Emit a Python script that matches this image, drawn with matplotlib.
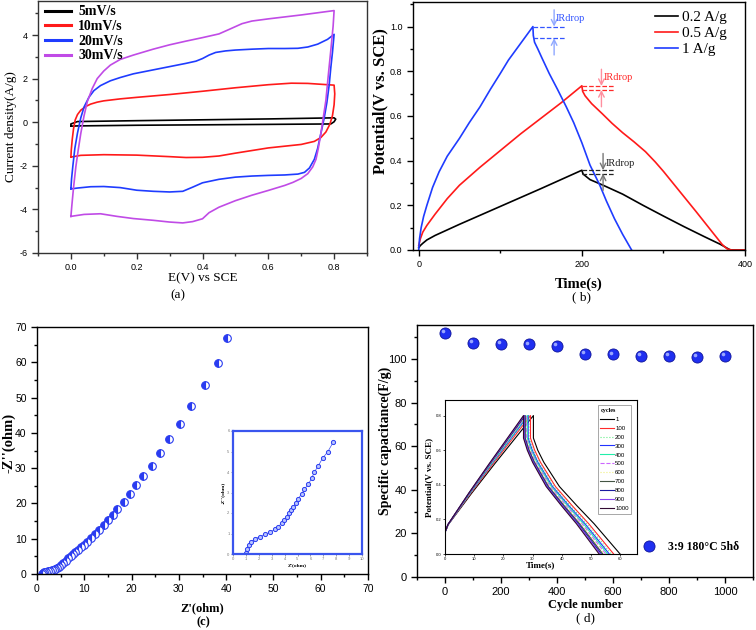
import numpy as np
import matplotlib
matplotlib.use('Agg')
import matplotlib.pyplot as plt
import matplotlib.transforms as mtransforms
from matplotlib.ticker import MultipleLocator

plt.rcParams.update({
    'font.family': 'Liberation Sans',
    'xtick.direction': 'out',
    'ytick.direction': 'out',
    'axes.linewidth': 1.0,
    'axes.unicode_minus': False,
})
SERIF = 'Liberation Serif'

# ---------------- data ----------------
# (a) cyclic voltammetry loops, E (V) and current density (A/g)
cv_labels = ['5mV/s', '10mV/s', '20mV/s', '30mV/s']
cv5_E = [0.0, 0.0, 0.02, 0.2, 0.4, 0.6, 0.8, 0.805, 0.8, 0.79, 0.6, 0.4, 0.2, 0.02, 0.0]
cv5_j = [-0.18, -0.08, 0.03, 0.07, 0.11, 0.15, 0.2, 0.14, 0.02, -0.08, -0.1, -0.12, -0.14, -0.17, -0.18]
cv10_E = [0.0, 0.001, 0.004, 0.008, 0.013, 0.02, 0.03, 0.045, 0.06, 0.08, 0.1, 0.15, 0.2, 0.3, 0.4,
          0.5, 0.6, 0.67, 0.72, 0.77, 0.8, 0.802, 0.8, 0.795, 0.787, 0.775, 0.76, 0.74, 0.7, 0.65,
          0.6, 0.55, 0.5, 0.45, 0.4, 0.35, 0.3, 0.2, 0.1, 0.03, 0.0]
cv10_j = [-1.6, -1.3, -0.8, -0.3, 0.1, 0.35, 0.55, 0.72, 0.83, 0.92, 0.98, 1.07, 1.14, 1.27, 1.42,
          1.58, 1.72, 1.79, 1.78, 1.73, 1.7, 1.3, 0.8, 0.3, -0.1, -0.45, -0.7, -0.88, -1.02, -1.1,
          -1.18, -1.3, -1.42, -1.55, -1.61, -1.62, -1.58, -1.51, -1.49, -1.52, -1.6]
cv20_E = [0.0, 0.002, 0.006, 0.012, 0.02, 0.03, 0.04, 0.055, 0.07, 0.09, 0.12, 0.15, 0.19, 0.25,
          0.3, 0.35, 0.38, 0.4, 0.42, 0.44, 0.47, 0.5, 0.55, 0.6, 0.65, 0.69, 0.72, 0.75, 0.78, 0.8,
          0.795, 0.79, 0.785, 0.778, 0.77, 0.76, 0.75, 0.74, 0.725, 0.71, 0.69, 0.65, 0.6, 0.55, 0.5,
          0.45, 0.4, 0.37, 0.34, 0.3, 0.25, 0.2, 0.15, 0.1, 0.06, 0.02, 0.005, 0.0]
cv20_j = [-3.05, -2.6, -2.0, -1.2, -0.5, 0.2, 0.7, 1.15, 1.45, 1.68, 1.9, 2.05, 2.22, 2.4,
          2.55, 2.7, 2.8, 2.92, 3.08, 3.2, 3.27, 3.31, 3.35, 3.38, 3.38, 3.39, 3.45, 3.58, 3.8, 4.03,
          3.2, 2.5, 1.7, 0.9, 0.2, -0.5, -1.2, -1.7, -2.1, -2.3, -2.38, -2.42, -2.44, -2.47, -2.52,
          -2.62, -2.78, -2.98, -3.17, -3.2, -3.17, -3.12, -3.0, -2.95, -2.96, -3.02, -3.05, -3.05]
cv30_E = [0.0, 0.003, 0.008, 0.015, 0.022, 0.03, 0.04, 0.05, 0.065, 0.08, 0.1, 0.12, 0.15, 0.19,
          0.25, 0.3, 0.35, 0.4, 0.45, 0.48, 0.52, 0.55, 0.6, 0.65, 0.7, 0.75, 0.8,
          0.797, 0.79, 0.782, 0.775, 0.767, 0.76, 0.752, 0.745, 0.735, 0.72, 0.7, 0.675, 0.65, 0.6,
          0.55, 0.5, 0.45, 0.42, 0.4, 0.37, 0.34, 0.3, 0.25, 0.19, 0.14, 0.09, 0.04, 0.0]
cv30_j = [-4.32, -3.8, -3.0, -2.05, -1.3, -0.52, 0.3, 0.95, 1.55, 2.0, 2.35, 2.62, 2.88, 3.08,
          3.35, 3.55, 3.72, 3.88, 4.05, 4.25, 4.52, 4.64, 4.74, 4.83, 4.92, 5.02, 5.12,
          4.4, 3.3, 2.1, 1.0, 0.2, -0.5, -1.2, -1.7, -2.05, -2.36, -2.58, -2.76, -2.9, -3.13,
          -3.35, -3.6, -3.9, -4.15, -4.43, -4.56, -4.62, -4.58, -4.5, -4.42, -4.32, -4.2, -4.23, -4.32]

# (b) galvanostatic charge/discharge
gcd_labels = ['0.2 A/g', '0.5 A/g', '1 A/g']
gcd02_t = [0, 2, 5, 10, 20, 50, 100, 150, 200, 201.5, 210, 226, 250, 275, 300, 325, 350, 370, 382, 400]
gcd02_V = [0.01, 0.02, 0.03, 0.045, 0.065, 0.115, 0.195, 0.275, 0.357, 0.34, 0.315, 0.29, 0.25, 0.2,
           0.152, 0.105, 0.06, 0.025, 0.0, 0.0]
gcd05_t = [0, 2, 5, 10, 20, 35, 50, 75, 100, 125, 150, 175, 200, 201, 204, 212, 225, 237, 250, 264,
           278, 290, 300, 320, 340, 360, 372, 378, 384, 400]
gcd05_V = [0.02, 0.05, 0.08, 0.11, 0.16, 0.23, 0.29, 0.37, 0.445, 0.52, 0.59, 0.66, 0.735, 0.71, 0.69,
           0.655, 0.61, 0.567, 0.525, 0.484, 0.44, 0.394, 0.352, 0.262, 0.172, 0.08, 0.025, 0.005, 0.0,
           0.0]
gcd1_t = [0, 1, 3, 6, 10, 17, 25, 35, 50, 62, 75, 88, 100, 110, 120, 130, 140, 140.5, 142, 146, 151,
          160, 170, 181, 190, 200, 210, 222, 230, 240, 250, 261]
gcd1_V = [0.0, 0.05, 0.1, 0.15, 0.2, 0.28, 0.35, 0.42, 0.5, 0.57, 0.64, 0.72, 0.79, 0.85, 0.9, 0.95,
          1.0, 0.96, 0.93, 0.9, 0.86, 0.79, 0.72, 0.64, 0.57, 0.48, 0.38, 0.29, 0.22, 0.14, 0.07, 0.0]
# IR drop marks: (t start, t end, V top, V bottom, arrow t, text t, text V)
ir_blue = (140, 180, 1.0, 0.948, 166, 167.5, 1.037)
ir_red = (200, 241, 0.734, 0.716, 224, 227, 0.773)
ir_black = (200, 241, 0.357, 0.342, 226, 229, 0.388)

# (c) Nyquist plot
eis_x = [40.2, 38.3, 35.5, 32.6, 30.3, 28.0, 26.0, 24.3, 22.5, 21.0, 19.6, 18.3, 17.0, 16.0, 15.1, 14.2,
         13.2, 12.3, 11.4, 10.6, 9.9, 9.3, 8.7, 8.1, 7.6, 7.1, 6.6, 6.1, 5.6, 5.1, 4.7, 4.3, 3.9, 3.5,
         3.1, 2.7, 2.3, 1.9, 1.5, 1.2, 1.0]
eis_y = [67.0, 59.8, 53.5, 47.6, 42.4, 38.2, 34.3, 30.6, 27.7, 25.2, 22.6, 20.3, 18.4, 16.8, 15.3, 13.9,
         12.5, 11.3, 10.1, 9.2, 8.3, 7.6, 6.9, 6.2, 5.6, 5.0, 4.4, 3.8, 3.2, 2.6, 2.1, 1.7, 1.35, 1.15,
         1.0, 0.9, 0.8, 0.65, 0.45, 0.25, 0.05]
eis_in_x = [0.99, 1.09, 1.22, 1.43, 1.69, 2.08, 2.47, 2.86, 3.25, 3.51, 3.77, 3.97, 4.16, 4.34, 4.49,
            4.68, 4.88, 5.06, 5.32, 5.53, 5.84, 6.1, 6.29, 6.62, 6.94, 7.35, 7.79]
eis_in_y = [0.03, 0.24, 0.44, 0.6, 0.73, 0.85, 0.96, 1.06, 1.2, 1.33, 1.5, 1.66, 1.82, 1.98, 2.15,
            2.31, 2.5, 2.7, 2.93, 3.15, 3.41, 3.69, 3.98, 4.31, 4.67, 4.99, 5.48]

# (d) cycling stability
cyc_n = [0, 100, 200, 300, 400, 500, 600, 700, 800, 900, 1000]
cyc_C = [111.8, 107.5, 106.8, 106.7, 106.0, 102.4, 102.1, 101.4, 101.4, 101.1, 101.4]
cyc_label = '3:9 180°C 5hδ'
# inset: GCD curves of selected cycles
in_cycles = ['1', '100', '200', '300', '400', '500', '600', '700', '800', '900', '1000']
in_peak_t = [30.3, 29.3, 28.8, 28.5, 28.2, 27.9, 27.7, 27.5, 27.3, 27.1, 26.9]
in_end_t = [60.0, 57.8, 57.0, 56.3, 55.7, 55.1, 54.6, 54.1, 53.6, 53.2, 52.8]
in_colors = ['#000000', '#ff2a2a', '#66ee88', '#2233ff', '#22eeaa', '#cc66ff', '#f0f080',
             '#445544', '#1a1aa0', '#8844ee', '#330a33']
in_styles = ['-', '-', ':', '-', '-', '--', ':', '-', '-', '-', '-']
# read shape of one curve: charge (fraction of peak time, V), discharge (fraction of discharge time, V)
chg_frac = [0.0, 0.004, 0.037, 0.11, 0.3, 0.56, 0.78, 1.0]
chg_V = [0.0, 0.13, 0.17, 0.22, 0.35, 0.52, 0.66, 0.8]
dis_frac = [0.0, 0.05, 0.12, 0.3, 0.5, 0.7, 0.88, 1.0]
dis_V = [0.67, 0.6, 0.53, 0.39, 0.28, 0.175, 0.07, 0.0]

W, H = 756, 630
fig = plt.figure(figsize=(W / 100, H / 100), dpi=100)


def box(l, t, r, b):
    return [l / W, 1 - b / H, (r - l) / W, (b - t) / H]


def style(ax, fs, color='black'):
    for s in ax.spines.values():
        s.set_color(color)
    ax.tick_params(which='both', top=False, right=False, labelsize=fs, colors=color)
    ax.tick_params(which='major', length=4, width=1)
    ax.tick_params(which='minor', length=2.5, width=1)
    for lab in ax.get_xticklabels() + ax.get_yticklabels():
        lab.set_color('black')


# ---------------- (a) CV ----------------
ax = fig.add_axes(box(38, 1, 367, 253))
cv_colors = ['black', '#ff1a1a', '#1f3cff', '#c04be6']
for E, j, c, lab in zip([cv5_E, cv10_E, cv20_E, cv30_E], [cv5_j, cv10_j, cv20_j, cv30_j], cv_colors, cv_labels):
    ax.plot(E, j, color=c, lw=1.2, label=lab)
ax.set_xlim(-0.1, 0.9)
ax.set_ylim(-6, 5.56)
ax.xaxis.set_major_locator(MultipleLocator(0.2))
ax.xaxis.set_minor_locator(MultipleLocator(0.1))
ax.yaxis.set_major_locator(MultipleLocator(2))
ax.yaxis.set_minor_locator(MultipleLocator(1))
ax.set_xticks([0.0, 0.2, 0.4, 0.6, 0.8])
style(ax, 6.5, '#333333')
ax.set_ylabel('Current density(A/g)', family=SERIF, fontsize=9.5, labelpad=2)
ax.set_xlabel('E(V) vs SCE', family=SERIF, fontsize=9.5, labelpad=0)
leg = ax.legend(loc='upper left', bbox_to_anchor=(0.0, 1.01), frameon=False, borderaxespad=0.1,
                handlelength=1.9, handletextpad=0.5, labelspacing=0.12,
                prop={'family': SERIF, 'weight': 'bold', 'size': 10})
for l in leg.get_lines():
    l.set_linewidth(2.2)
fig.text(178 / W, 1 - 295 / H, '(a)', family=SERIF, fontsize=9.5, ha='center', va='center')

# ---------------- (b) GCD ----------------
ax = fig.add_axes(box(413, 2, 745, 250))
ax.plot(gcd02_t, gcd02_V, color='black', lw=1.2, label=gcd_labels[0])
ax.plot(gcd05_t, gcd05_V, color='#ff1a1a', lw=1.2, label=gcd_labels[1])
ax.plot(gcd1_t, gcd1_V, color='#1f3cff', lw=1.2, label=gcd_labels[2])
for ir, c, ca in [(ir_blue, '#3355ff', '#8fa8ff'), (ir_red, '#ff2a2a', '#ff8f9f'), (ir_black, '#222222', '#777777')]:
    t0, t1, vt, vb, ta, tt, vtx = ir
    ax.plot([t0, t1], [vt, vt], ls='--', color=c, lw=0.9)
    ax.plot([t0, t1], [vb, vb], ls='--', color=c, lw=0.9)
    ax.annotate('', xy=(ta, vt), xytext=(ta, vt + 0.075),
                arrowprops=dict(arrowstyle='->', color=ca, lw=1.0, shrinkA=0, shrinkB=0))
    ax.annotate('', xy=(ta, vb), xytext=(ta, vb - 0.075),
                arrowprops=dict(arrowstyle='->', color=ca, lw=1.0, shrinkA=0, shrinkB=0))
    ax.text(tt, vtx, 'IRdrop', color=c, family=SERIF, fontsize=7.5, va='center', ha='left')
ax.set_xlim(-7, 400)
ax.set_ylim(0, 1.11)
ax.xaxis.set_major_locator(MultipleLocator(200))
ax.xaxis.set_minor_locator(MultipleLocator(100))
ax.yaxis.set_major_locator(MultipleLocator(0.2))
ax.yaxis.set_minor_locator(MultipleLocator(0.1))
style(ax, 6.5)
ax.set_ylabel('Potential(V vs. SCE)', family=SERIF, weight='bold', fontsize=12)
ax.yaxis.set_label_coords(-0.075, 0.6)
ax.set_xlabel('Time(s)', family=SERIF, weight='bold', fontsize=10.5, labelpad=6)
ax.legend(loc='upper left', bbox_to_anchor=(0.71, 0.99), frameon=False, handlelength=1.5,
          handletextpad=0.3, labelspacing=0.15, borderpad=0.2, borderaxespad=0.2,
          prop={'family': SERIF, 'size': 11})
fig.text(581 / W, 1 - 297 / H, '( b)', family=SERIF, fontsize=9.5, ha='center', va='center')

# ---------------- (c) Nyquist ----------------
ax = fig.add_axes(box(37, 327, 368, 574))
ax.plot(eis_x, eis_y, ls='none', marker='o', ms=5.5, fillstyle='left', color='#2a3cf0',
        markerfacecoloralt='white', mec='#2a3cf0', mew=0.8)
ax.set_xlim(0, 70)
ax.set_ylim(0, 70)
ax.xaxis.set_major_locator(MultipleLocator(10))
ax.xaxis.set_minor_locator(MultipleLocator(5))
ax.yaxis.set_major_locator(MultipleLocator(10))
ax.yaxis.set_minor_locator(MultipleLocator(5))
style(ax, 7.5)
ax.set_ylabel("-Z''(ohm)", family=SERIF, weight='bold', fontsize=10.5)
ax.yaxis.set_label_coords(-0.065, 0.53)
ax.set_xlabel("Z'(ohm)", family=SERIF, weight='bold', fontsize=9, labelpad=6)
fig.text(203 / W, 1 - 622 / H, '(c)', family=SERIF, weight='bold', fontsize=9, ha='center', va='center')

axi = fig.add_axes(box(233, 431, 362, 554))
axi.plot(eis_in_x, eis_in_y, '-o', color='#3a4cf0', lw=0.5, ms=3, mfc='#b8c4ff', mec='#2a3cf0', mew=0.7)
axi.set_xlim(0, 10)
axi.set_ylim(0, 6)
axi.xaxis.set_major_locator(MultipleLocator(1))
axi.yaxis.set_major_locator(MultipleLocator(1))
for s in axi.spines.values():
    s.set_color('#3a55ee')
    s.set_linewidth(1.6)
axi.tick_params(top=False, right=False, labelsize=3, length=1.5, width=0.5, colors='#777777', pad=1)
axi.set_xlabel("Z'(ohm)", family=SERIF, weight='bold', fontsize=3.8, labelpad=1.5)
axi.set_ylabel("-Z''(ohm)", family=SERIF, weight='bold', fontsize=3.8, labelpad=1.5)

# ---------------- (d) cycling ----------------
ax = fig.add_axes(box(417, 325, 753, 577))
ax.plot(cyc_n, cyc_C, ls='none', marker='o', ms=8, color='#1f2ff0', mec='#10159a', mew=0.6,
        label=cyc_label)
hl = mtransforms.offset_copy(ax.transData, fig=fig, x=-1.3, y=1.3, units='points')
ax.plot(cyc_n, cyc_C, ls='none', marker='o', ms=2.6, color='#9aa6ff', mew=0, transform=hl)
ax.set_xlim(-100, 1100)
ax.set_ylim(0, 115.6)
ax.xaxis.set_major_locator(MultipleLocator(200))
ax.xaxis.set_minor_locator(MultipleLocator(100))
ax.yaxis.set_major_locator(MultipleLocator(20))
ax.yaxis.set_minor_locator(MultipleLocator(10))
style(ax, 8)
ax.set_ylabel('Specific capacitance(F/g)', family=SERIF, weight='bold', fontsize=10)
ax.yaxis.set_label_coords(-0.075, 0.54)
ax.set_xlabel('Cycle number', family=SERIF, weight='bold', fontsize=9, labelpad=1)
ax.legend(loc='center left', bbox_to_anchor=(0.625, 0.12), frameon=False, handletextpad=0.6,
          prop={'family': SERIF, 'weight': 'bold', 'size': 8.5})
fig.text(585 / W, 1 - 618 / H, '( d)', family=SERIF, fontsize=9.5, ha='center', va='center')

axd = fig.add_axes(box(445, 400, 637, 554))
for tp, te, c, ls, lab in zip(in_peak_t, in_end_t, in_colors, in_styles, in_cycles):
    t = [f * tp for f in chg_frac] + [tp + f * (te - tp) for f in dis_frac]
    v = chg_V + dis_V
    axd.plot(t, v, color=c, ls=ls, lw=0.8, label=lab)
axd.set_xlim(0, 65.8)
axd.set_ylim(0, 0.89)
axd.xaxis.set_major_locator(MultipleLocator(10))
axd.yaxis.set_major_locator(MultipleLocator(0.2))
axd.tick_params(top=False, right=False, labelsize=3, length=1.5, width=0.5, pad=1)
for s in axd.spines.values():
    s.set_linewidth(0.8)
axd.set_xlabel('Time(s)', family=SERIF, weight='bold', fontsize=6.5, labelpad=0)
axd.set_ylabel('Potential(V vs. SCE)', family=SERIF, weight='bold', fontsize=6.5, labelpad=2)
lg = axd.legend(loc='upper right', bbox_to_anchor=(0.985, 0.985), fontsize=4.4, title='cycles',
                title_fontproperties={'family': SERIF, 'weight': 'bold', 'size': 4.4},
                handlelength=2.2, handletextpad=0.2, labelspacing=0.6, borderpad=0.4,
                fancybox=False, edgecolor='#999999', framealpha=1)
lg._legend_box.align = 'left'
lg.get_frame().set_linewidth(0.6)

fig.savefig('out.png', dpi=100)
